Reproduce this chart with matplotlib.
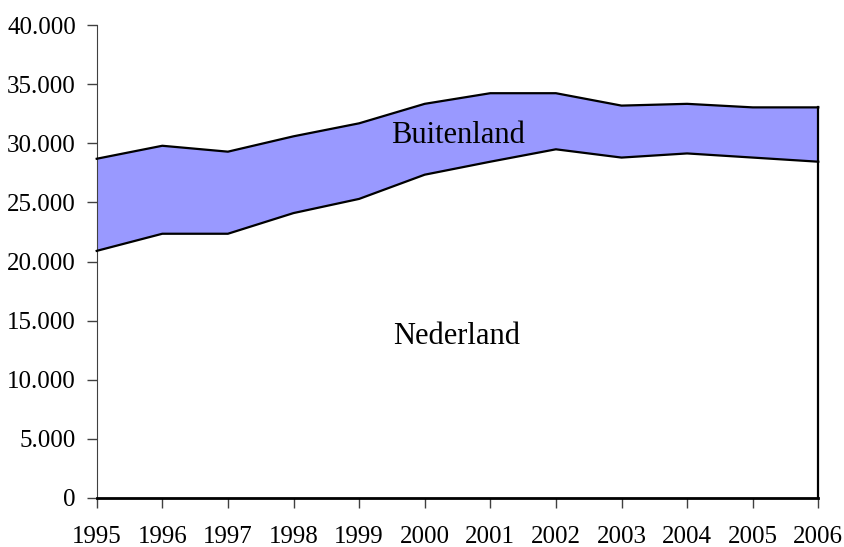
import matplotlib
matplotlib.use("Agg")
import matplotlib.pyplot as plt
from matplotlib.ticker import FuncFormatter

years = [1995, 1996, 1997, 1998, 1999, 2000, 2001, 2002, 2003, 2004, 2005, 2006]
nederland = [20900, 22350, 22350, 24100, 25300, 27350, 28450, 29500, 28800, 29150, 28800, 28450]
buitenland = [7800, 7450, 6950, 6500, 6400, 6000, 5800, 4750, 4400, 4200, 4250, 4600]
ytick_values = [0, 5000, 10000, 15000, 20000, 25000, 30000, 35000, 40000]

total = [n + b for n, b in zip(nederland, buitenland)]

plt.rcParams['font.family'] = ['Liberation Serif', 'DejaVu Serif']

fig = plt.figure(figsize=(8.45, 5.47), dpi=100)
ax = fig.add_axes([96.7 / 845, (547 - 497.7) / 547, (818.3 - 96.7) / 845, (497.7 - 25.3) / 547])

ax.fill_between(years, 0, nederland, facecolor='white', linewidth=0)
ax.fill_between(years, nederland, total, facecolor='#9999FF', linewidth=0)
ax.plot(years, nederland, color='black', lw=1.6, clip_on=False, zorder=3)
ax.plot(years, total, color='black', lw=1.6, clip_on=False, zorder=3)
ax.plot([years[-1], years[-1]], [0, total[-1]], color='black', lw=1.6, clip_on=False, zorder=3)
ax.plot([years[0], years[-1]], [0, 0], color='black', lw=2.0, clip_on=False, zorder=3)

ax.set_xlim(years[0], years[-1])
ax.set_ylim(0, 40000)
ax.set_xticks(years)
ax.set_xticklabels([str(y) for y in years])
ax.set_yticks(ytick_values)
ax.yaxis.set_major_formatter(FuncFormatter(lambda v, p: f"{int(v):,}".replace(',', '.')))

for s in ['top', 'right']:
    ax.spines[s].set_visible(False)
ax.spines['left'].set_color('#404040')
ax.spines['bottom'].set_color('#404040')
ax.tick_params(axis='both', direction='out', length=7, width=1, color='#404040', labelsize=18)
ax.tick_params(axis='x', pad=13.5)
ax.tick_params(axis='y', pad=8)

ax.text(2000.5, 30000, 'Buitenland', ha='center', va='baseline', fontsize=22, zorder=4)
ax.text(2000.48, 13000, 'Nederland', ha='center', va='baseline', fontsize=22, zorder=4)

fig.savefig('out.png', dpi=100)
